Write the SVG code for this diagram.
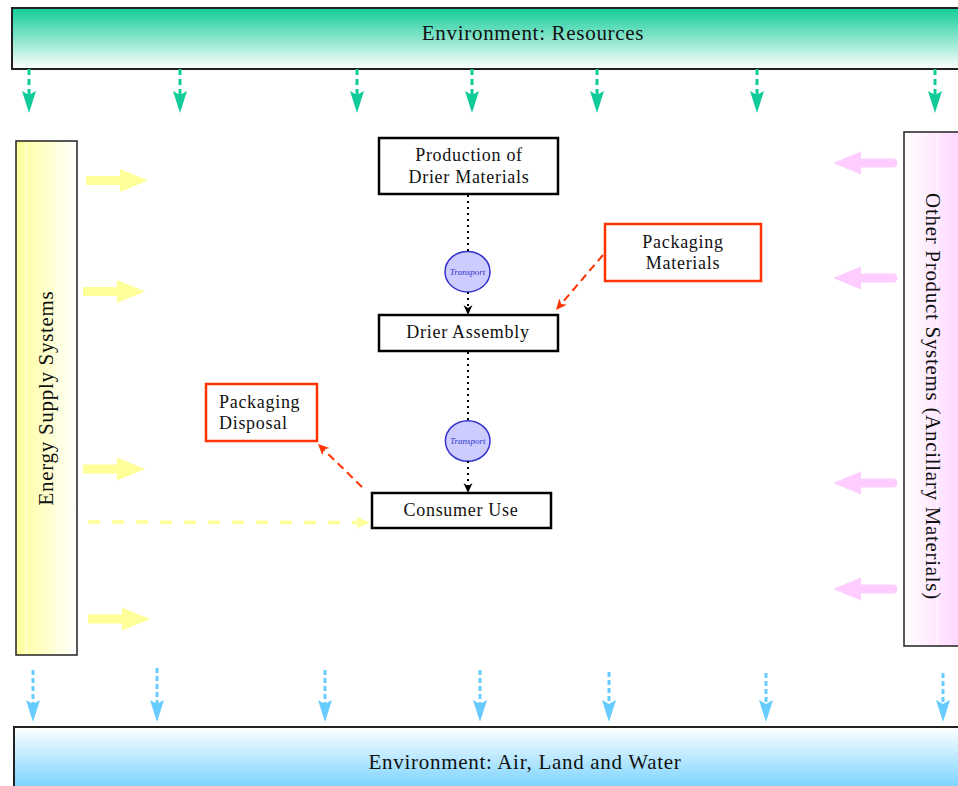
<svg xmlns="http://www.w3.org/2000/svg" xmlns:xlink="http://www.w3.org/1999/xlink" width="958" height="786" viewBox="0 0 958 786">
<style>
  text { font-family: "Liberation Serif", "Times New Roman", serif; fill: #111; }
  .big { font-size: 21px; letter-spacing: 0.7px; }
  .lbl { font-size: 18px; letter-spacing: 0.7px; }
  .node { fill: #fff; stroke: #000; stroke-width: 2.5; }
  .pkg { fill: #fff; stroke: #ff3300; stroke-width: 2.5; }
  .env { stroke: #222; stroke-width: 2; }
  .side { stroke: #222; stroke-width: 1.5; }
  .band { stroke: #fff; stroke-width: 1; }
  .trans { fill: #ccccff; stroke: #3333cc; stroke-width: 1.5; }
  .ttxt { font-size: 9px; font-style: italic; fill: #3333cc; letter-spacing: 0; }
  .teal { stroke: #11cc99; stroke-width: 3; stroke-dasharray: 6 4; fill: none; marker-end: url(#mTeal); }
  .blue { stroke: #66ccff; stroke-width: 3; stroke-dasharray: 5 3; fill: none; marker-end: url(#mBlue); }
  .dot { stroke: #000; stroke-width: 2; stroke-dasharray: 2 4; fill: none; }
  .red { stroke: #ff3300; stroke-width: 2; stroke-dasharray: 8 5; fill: none; marker-end: url(#mRed); }
  .yel { stroke: #ffff99; stroke-width: 3.5; stroke-dasharray: 12 12; fill: none; marker-end: url(#mYel); }
  .yblock { fill: #ffff99; }
  .pblock { fill: #ffccff; }
</style>
<defs>
  <linearGradient id="gTeal" x1="0" y1="0" x2="0" y2="1">
    <stop offset="0" stop-color="#11cc99"/>
    <stop offset="1" stop-color="#ffffff"/>
  </linearGradient>
  <linearGradient id="gBlue" x1="0" y1="0" x2="0" y2="1">
    <stop offset="0" stop-color="#ffffff"/>
    <stop offset="1" stop-color="#66ccff"/>
  </linearGradient>
  <linearGradient id="gYel" x1="0" y1="0" x2="1" y2="0">
    <stop offset="0" stop-color="#ffff99"/>
    <stop offset="1" stop-color="#ffffff"/>
  </linearGradient>
  <linearGradient id="gPink" x1="0" y1="0" x2="1" y2="0">
    <stop offset="0" stop-color="#ffffff"/>
    <stop offset="1" stop-color="#ffccff"/>
  </linearGradient>
  <marker id="mTeal" markerUnits="userSpaceOnUse" markerWidth="24" markerHeight="16" refX="4" refY="7" orient="auto">
    <path d="M0,0 L22,7 L0,14 L4,7 Z" fill="#11cc99"/>
  </marker>
  <marker id="mBlue" markerUnits="userSpaceOnUse" markerWidth="24" markerHeight="16" refX="4" refY="7" orient="auto">
    <path d="M0,0 L22,7 L0,14 L4,7 Z" fill="#66ccff"/>
  </marker>
  <marker id="mRed" markerUnits="userSpaceOnUse" markerWidth="12" markerHeight="12" refX="3" refY="5" orient="auto">
    <path d="M0,0 L11,5 L0,10 L3,5 Z" fill="#ff3300"/>
  </marker>
  <marker id="mBlk" markerUnits="userSpaceOnUse" markerWidth="12" markerHeight="12" refX="3" refY="4.5" orient="auto">
    <path d="M0,0 L10,4.5 L0,9 L3,4.5 Z" fill="#000"/>
  </marker>
  <marker id="mYel" markerUnits="userSpaceOnUse" markerWidth="16" markerHeight="14" refX="3" refY="6" orient="auto">
    <path d="M0,0 L14,6 L0,12 L3,6 Z" fill="#ffff99"/>
  </marker>
  <path id="yArrow" d="M0,-4.5 H34 V-11.5 L62,0 L34,11.5 V4.5 H0 Z"/>
  <path id="pArrow" d="M0,0 L28,-11.5 L28,-4.5 H60 A4.5,4.5 0 0 1 60,4.5 H28 L28,11.5 Z"/>
</defs>

<g id="env-resources">
  <rect class="env" x="12" y="8" width="960" height="61" fill="url(#gTeal)"/>
  <text class="big" x="533" y="40" text-anchor="middle">Environment: Resources</text>
</g>

<g id="env-air-land-water">
  <rect class="env" x="14" y="727" width="960" height="70" fill="url(#gBlue)"/>
  <text class="big" x="525" y="769" text-anchor="middle">Environment: Air, Land and Water</text>
</g>

<g id="energy-supply">
  <rect class="side" x="16" y="141" width="61" height="514" fill="url(#gYel)"/>
  <line class="band" x1="26" y1="142" x2="26" y2="654"/>
  <line class="band" x1="58" y1="142" x2="58" y2="654"/>
  <text class="big" transform="translate(53,398) rotate(-90)" text-anchor="middle">Energy Supply Systems</text>
</g>

<g id="other-product-systems">
  <rect class="side" x="904" y="132" width="70" height="514" fill="url(#gPink)"/>
  <line class="band" x1="937" y1="133" x2="937" y2="645"/>
  <text class="big" transform="translate(926,396.5) rotate(90)" text-anchor="middle">Other Product Systems (Ancillary Materials)</text>
</g>

<g id="production">
  <rect class="node" x="379" y="138" width="179" height="56"/>
  <text class="lbl" x="469" y="161" text-anchor="middle">Production of</text>
  <text class="lbl" x="469" y="183" text-anchor="middle">Drier Materials</text>
</g>

<g id="transport-1">
  <ellipse class="trans" cx="467.5" cy="271.7" rx="22.5" ry="20.3"/>
  <text class="ttxt" x="467.5" y="274.7" text-anchor="middle">Transport</text>
</g>

<g id="drier-assembly">
  <rect class="node" x="379" y="315" width="179" height="36"/>
  <text class="lbl" x="468" y="338" text-anchor="middle">Drier Assembly</text>
</g>

<g id="transport-2">
  <ellipse class="trans" cx="467.7" cy="441" rx="22.3" ry="20.3"/>
  <text class="ttxt" x="467.7" y="444" text-anchor="middle">Transport</text>
</g>

<g id="consumer-use">
  <rect class="node" x="372" y="493" width="179" height="35"/>
  <text class="lbl" x="461" y="516" text-anchor="middle">Consumer Use</text>
</g>

<g id="packaging-materials">
  <rect class="pkg" x="605" y="224" width="156" height="57"/>
  <text class="lbl" x="683" y="248" text-anchor="middle">Packaging</text>
  <text class="lbl" x="683" y="269" text-anchor="middle">Materials</text>
</g>

<g id="packaging-disposal">
  <rect class="pkg" x="206" y="384" width="111" height="57"/>
  <text class="lbl" x="219" y="408">Packaging</text>
  <text class="lbl" x="219" y="429">Disposal</text>
</g>

<g id="connectors">
  <line class="teal" x1="29" y1="69" x2="29" y2="95"/>
  <line class="teal" x1="180" y1="69" x2="180" y2="95"/>
  <line class="teal" x1="357" y1="69" x2="357" y2="95"/>
  <line class="teal" x1="472" y1="69" x2="472" y2="95"/>
  <line class="teal" x1="597" y1="69" x2="597" y2="95"/>
  <line class="teal" x1="757" y1="69" x2="757" y2="95"/>
  <line class="teal" x1="935" y1="69" x2="935" y2="95"/>

  <line class="blue" x1="33" y1="670" x2="33" y2="704"/>
  <line class="blue" x1="157" y1="668" x2="157" y2="704"/>
  <line class="blue" x1="325" y1="670" x2="325" y2="704"/>
  <line class="blue" x1="480" y1="670" x2="480" y2="704"/>
  <line class="blue" x1="609" y1="672" x2="609" y2="704"/>
  <line class="blue" x1="766" y1="673" x2="766" y2="704"/>
  <line class="blue" x1="943" y1="673" x2="943" y2="704"/>

  <use href="#yArrow" xlink:href="#yArrow" class="yblock" x="86" y="180.5"/>
  <use href="#yArrow" xlink:href="#yArrow" class="yblock" x="83" y="291.5"/>
  <use href="#yArrow" xlink:href="#yArrow" class="yblock" x="83" y="469"/>
  <use href="#yArrow" xlink:href="#yArrow" class="yblock" x="88" y="619"/>

  <use href="#pArrow" xlink:href="#pArrow" class="pblock" x="833" y="163"/>
  <use href="#pArrow" xlink:href="#pArrow" class="pblock" x="833" y="278"/>
  <use href="#pArrow" xlink:href="#pArrow" class="pblock" x="833" y="483"/>
  <use href="#pArrow" xlink:href="#pArrow" class="pblock" x="833" y="589"/>

  <line class="yel" x1="88" y1="522" x2="359" y2="522.5"/>

  <line class="dot" x1="468" y1="195" x2="468" y2="251"/>
  <line class="dot" x1="468" y1="292" x2="468" y2="308" marker-end="url(#mBlk)"/>
  <line class="dot" x1="468" y1="352" x2="468" y2="421"/>
  <line class="dot" x1="468" y1="461" x2="468" y2="486" marker-end="url(#mBlk)"/>

  <line class="red" x1="603" y1="255" x2="561.2" y2="303.9"/>
  <line class="red" x1="362" y1="487" x2="323.7" y2="449.6"/>
</g>
</svg>
